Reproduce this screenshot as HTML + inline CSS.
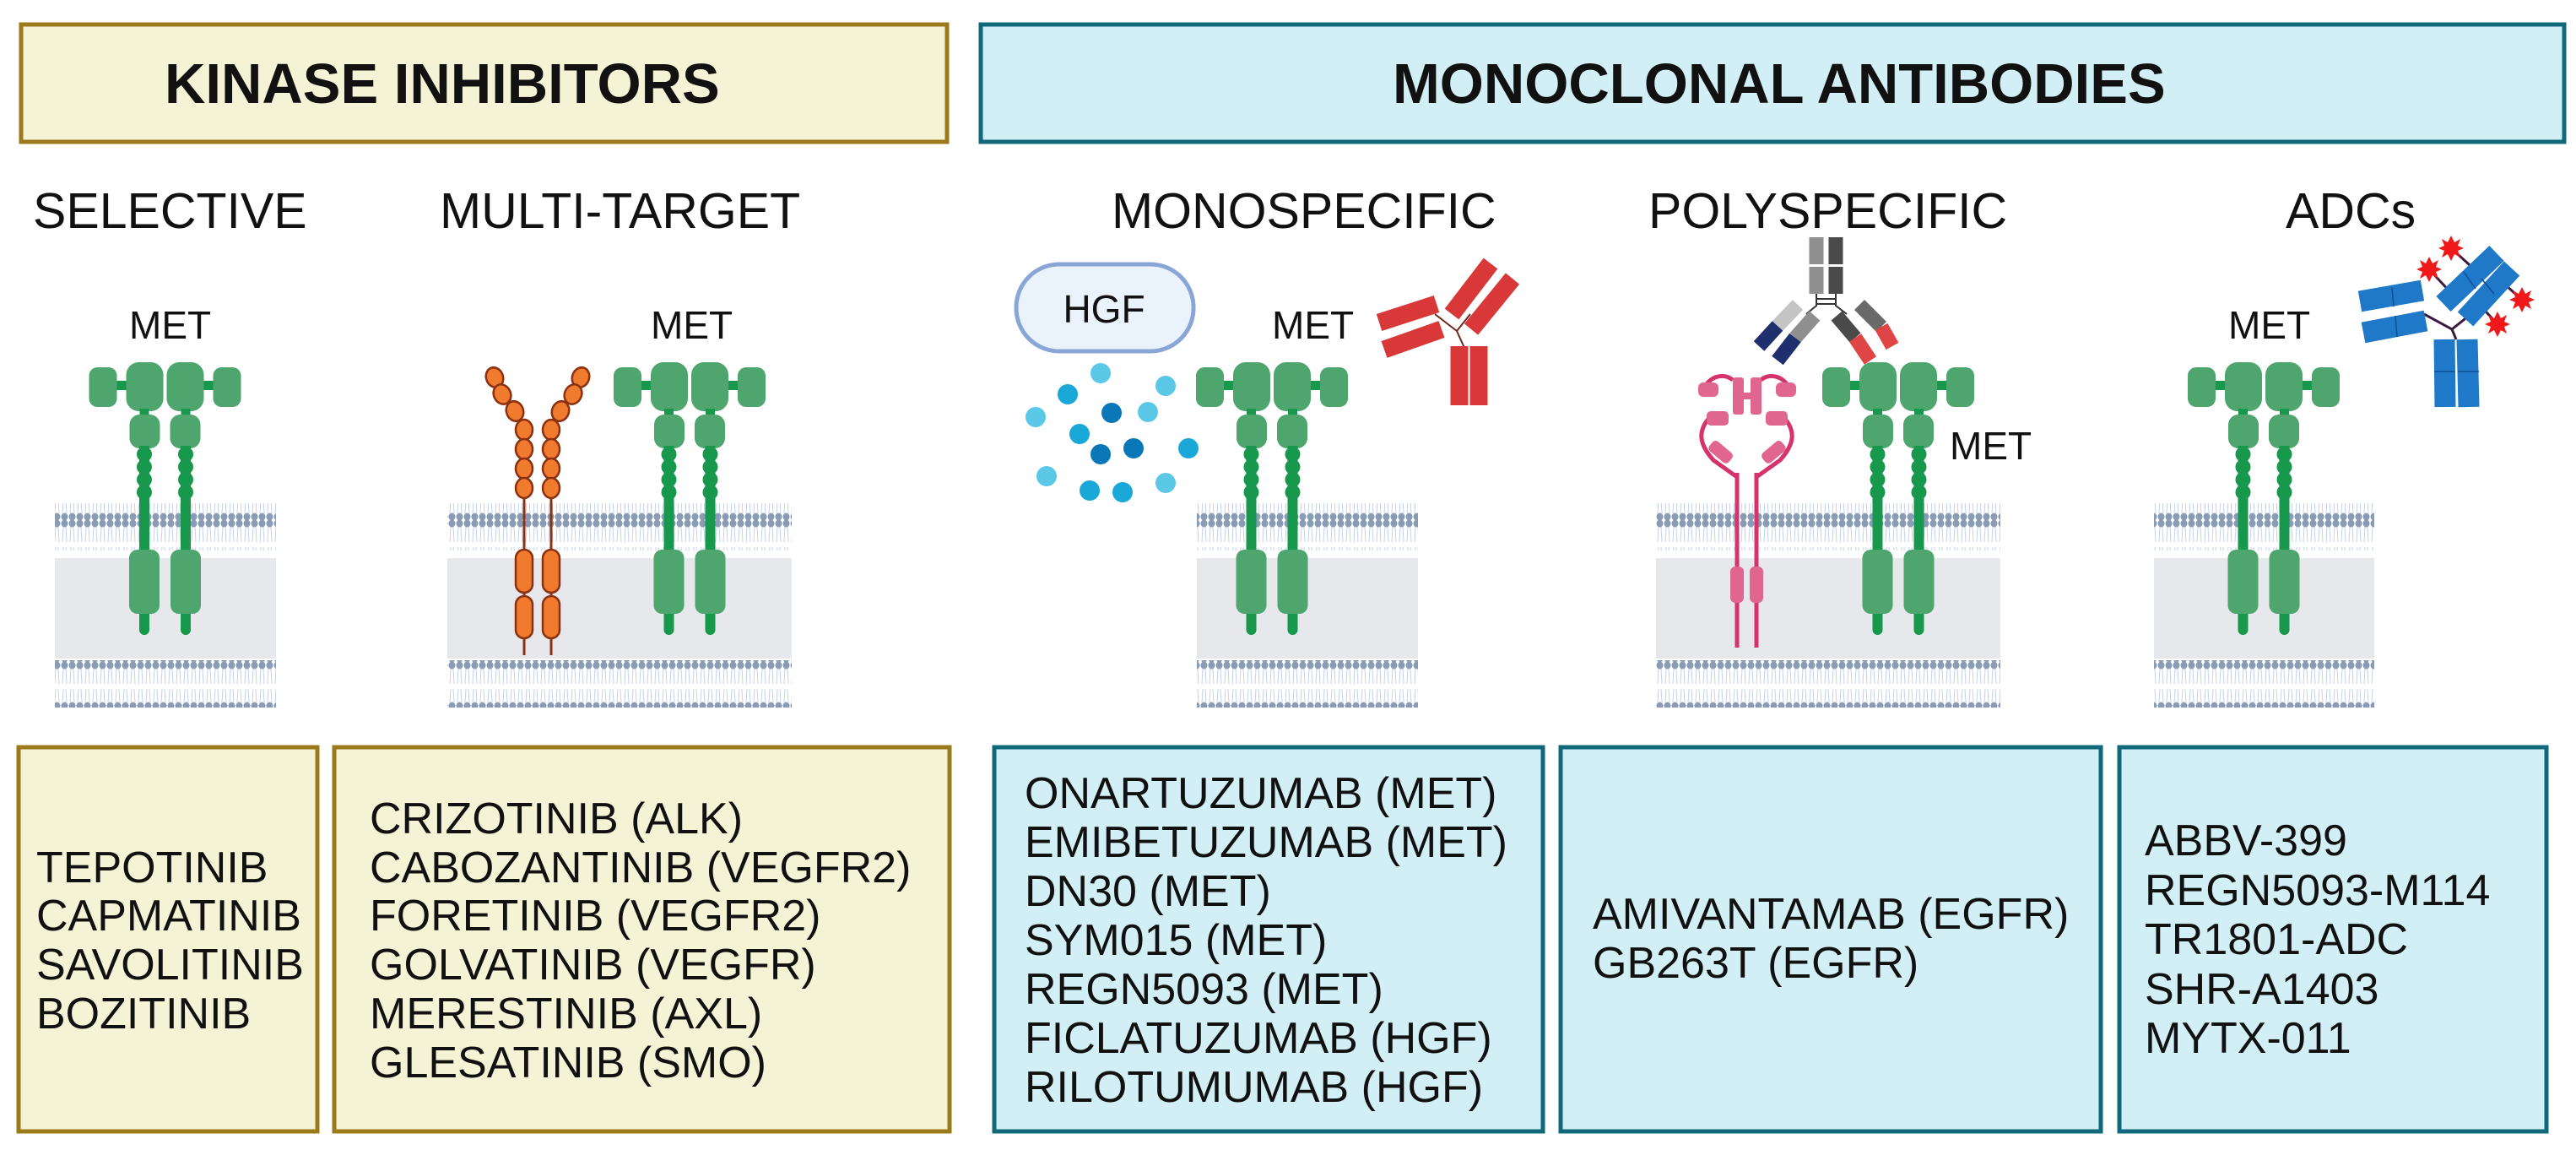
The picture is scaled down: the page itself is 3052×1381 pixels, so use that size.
<!DOCTYPE html>
<html><head><meta charset="utf-8">
<style>
html,body{margin:0;padding:0;background:#fff;}
svg{display:block;}
text{font-family:"Liberation Sans",Arial,sans-serif;fill:#111;}
</style></head>
<body>
<svg width="3052" height="1381" viewBox="0 0 3052 1381" xmlns="http://www.w3.org/2000/svg">
<defs>
  <pattern id="lip" x="0" y="0" width="9" height="56" patternUnits="userSpaceOnUse">
    <path d="M3,8 L2,26 M6,8 L7,26 M3,32 L2,48 M6,32 L7,48" stroke="#c3d3ea" stroke-width="1" fill="none"/>
    <ellipse cx="4.5" cy="4" rx="4" ry="4.5" fill="#8a9bb5"/>
    <ellipse cx="4.5" cy="52" rx="4" ry="4.5" fill="#8a9bb5"/>
  </pattern>
  <g id="met">
    <rect x="-60" y="451" width="16" height="11" fill="#17984c"/>
    <rect x="44" y="451" width="16" height="11" fill="#17984c"/>
    <rect x="-90" y="435" width="33" height="47" rx="10" fill="#4ea66e"/>
    <rect x="57" y="435" width="33" height="47" rx="10" fill="#4ea66e"/>
    <rect x="-46" y="429" width="44" height="58" rx="15" fill="#4ea66e"/>
    <rect x="2" y="429" width="44" height="58" rx="15" fill="#4ea66e"/>
    <rect x="-30" y="484" width="11" height="10" fill="#17984c"/>
    <rect x="19" y="484" width="11" height="10" fill="#17984c"/>
    <rect x="-42" y="491" width="36" height="40" rx="12" fill="#4ea66e"/>
    <rect x="6" y="491" width="36" height="40" rx="12" fill="#4ea66e"/>
    <g fill="#17984c">
      <rect x="-30.5" y="528" width="12" height="126"/>
      <rect x="18.5" y="528" width="12" height="126"/>
      <circle cx="-24.5" cy="538" r="9"/><circle cx="-24.5" cy="553" r="9"/><circle cx="-24.5" cy="568" r="9"/><circle cx="-24.5" cy="583" r="9"/>
      <circle cx="24.5" cy="538" r="9"/><circle cx="24.5" cy="553" r="9"/><circle cx="24.5" cy="568" r="9"/><circle cx="24.5" cy="583" r="9"/>
      <rect x="-30.5" y="715" width="12" height="37" rx="6"/>
      <rect x="18.5" y="715" width="12" height="37" rx="6"/>
    </g>
    <rect x="-42.5" y="651" width="36" height="76" rx="10" fill="#4ea66e"/>
    <rect x="6.5" y="651" width="36" height="76" rx="10" fill="#4ea66e"/>
  </g>
  <polygon id="star" points="0,-15 4,-7 11,-11 8,-3 15,0 8,3 11,11 4,7 0,15 -4,7 -11,11 -8,3 -15,0 -8,-3 -11,-11 -4,-7" fill="#f01818"/>
</defs>

<rect x="25" y="29" width="1097" height="139" fill="#f5f3d6" stroke="#9c7a1c" stroke-width="5"/>
<text x="195" y="122" font-size="67" font-weight="bold">KINASE INHIBITORS</text>
<rect x="1162" y="29" width="1876" height="139" fill="#d2eff6" stroke="#10687a" stroke-width="5"/>
<text x="1650" y="122" font-size="67" font-weight="bold">MONOCLONAL ANTIBODIES</text>

<g font-size="59">
<text x="39" y="270">SELECTIVE</text>
<text x="521" y="270">MULTI-TARGET</text>
<text x="1317" y="270">MONOSPECIFIC</text>
<text x="1953" y="270">POLYSPECIFIC</text>
<text x="2708" y="270">ADCs</text>
</g>

<g>
  <rect x="65" y="661" width="262" height="119" fill="#e6e8eb"/>
  <rect x="65" y="596" width="262" height="56" fill="url(#lip)"/>
  <rect x="65" y="782" width="262" height="56" fill="url(#lip)"/>
  <rect x="530" y="661" width="408" height="119" fill="#e6e8eb"/>
  <rect x="530" y="596" width="408" height="56" fill="url(#lip)"/>
  <rect x="530" y="782" width="408" height="56" fill="url(#lip)"/>
  <rect x="1418" y="661" width="262" height="119" fill="#e6e8eb"/>
  <rect x="1418" y="596" width="262" height="56" fill="url(#lip)"/>
  <rect x="1418" y="782" width="262" height="56" fill="url(#lip)"/>
  <rect x="1962" y="661" width="408" height="119" fill="#e6e8eb"/>
  <rect x="1962" y="596" width="408" height="56" fill="url(#lip)"/>
  <rect x="1962" y="782" width="408" height="56" fill="url(#lip)"/>
  <rect x="2552" y="661" width="261" height="119" fill="#e6e8eb"/>
  <rect x="2552" y="596" width="261" height="56" fill="url(#lip)"/>
  <rect x="2552" y="782" width="261" height="56" fill="url(#lip)"/>
</g>

<g font-size="46">
<text x="153" y="401">MET</text>
<text x="771" y="401">MET</text>
<text x="1507" y="401">MET</text>
<text x="2310" y="544">MET</text>
<text x="2640" y="401">MET</text>
</g>

<use href="#met" x="195.5" y="0"/>
<use href="#met" x="817" y="0"/>
<use href="#met" x="1507" y="0"/>
<use href="#met" x="2249" y="0"/>
<use href="#met" x="2682" y="0"/>

<g stroke="#8b3010" stroke-width="3">
  <line x1="621" y1="590" x2="621" y2="776"/>
  <line x1="653" y1="590" x2="653" y2="776"/>
</g>
<g fill="#f07a2e" stroke="#8b3010" stroke-width="2.5">
  <ellipse cx="586" cy="447" rx="10" ry="12" transform="rotate(-20 586 447)"/>
  <ellipse cx="595" cy="467" rx="10" ry="12" transform="rotate(-25 595 467)"/>
  <ellipse cx="610" cy="487" rx="10" ry="12" transform="rotate(-20 610 487)"/>
  <ellipse cx="621" cy="509" rx="10" ry="12"/>
  <ellipse cx="621" cy="532" rx="10" ry="12"/>
  <ellipse cx="621" cy="555" rx="10" ry="12"/>
  <ellipse cx="621" cy="578" rx="10" ry="12"/>
  <ellipse cx="688" cy="447" rx="10" ry="12" transform="rotate(20 688 447)"/>
  <ellipse cx="679" cy="467" rx="10" ry="12" transform="rotate(25 679 467)"/>
  <ellipse cx="664" cy="487" rx="10" ry="12" transform="rotate(20 664 487)"/>
  <ellipse cx="653" cy="509" rx="10" ry="12"/>
  <ellipse cx="653" cy="532" rx="10" ry="12"/>
  <ellipse cx="653" cy="555" rx="10" ry="12"/>
  <ellipse cx="653" cy="578" rx="10" ry="12"/>
  <rect x="611" y="651" width="20" height="51" rx="10"/>
  <rect x="643" y="651" width="20" height="51" rx="10"/>
  <rect x="611" y="706" width="20" height="50" rx="10"/>
  <rect x="643" y="706" width="20" height="50" rx="10"/>
</g>

<rect x="1204" y="313" width="210" height="103" rx="51" fill="#eaf3fc" stroke="#8aa6d6" stroke-width="5"/>
<text x="1308" y="382" font-size="46" text-anchor="middle">HGF</text>
<g>
  <circle cx="1304" cy="442" r="12" fill="#5cc8e8"/>
  <circle cx="1381" cy="457" r="12" fill="#5cc8e8"/>
  <circle cx="1265" cy="467" r="12" fill="#1aa8d8"/>
  <circle cx="1227" cy="494" r="12" fill="#5cc8e8"/>
  <circle cx="1317" cy="489" r="12" fill="#0a78b8"/>
  <circle cx="1360" cy="488" r="12" fill="#5cc8e8"/>
  <circle cx="1279" cy="514" r="12" fill="#1aa8d8"/>
  <circle cx="1304" cy="538" r="12" fill="#0a78b8"/>
  <circle cx="1343" cy="531" r="12" fill="#0a78b8"/>
  <circle cx="1408" cy="531" r="12" fill="#1aa8d8"/>
  <circle cx="1240" cy="564" r="12" fill="#5cc8e8"/>
  <circle cx="1291" cy="581" r="12" fill="#1aa8d8"/>
  <circle cx="1330" cy="583" r="12" fill="#1aa8d8"/>
  <circle cx="1381" cy="572" r="12" fill="#5cc8e8"/>
</g>

<g stroke="#6a2a20" stroke-width="2" fill="none">
  <path d="M1700,372 L1726,392 L1742,372 M1726,392 L1735,412"/>
</g>
<g stroke="#d93838" stroke-width="21">
  <line x1="1720" y1="372" x2="1766" y2="312"/>
  <line x1="1743" y1="390" x2="1792" y2="330"/>
  <line x1="1634" y1="382" x2="1702" y2="360"/>
  <line x1="1640" y1="414" x2="1708" y2="390"/>
  <line x1="1729" y1="410" x2="1729" y2="480"/>
  <line x1="1752" y1="410" x2="1752" y2="480"/>
</g>

<g fill="none" stroke="#d6336c" stroke-width="5">
  <line x1="2058" y1="560" x2="2058" y2="767"/>
  <line x1="2081" y1="560" x2="2081" y2="767"/>
  <path d="M2025,495 C2012,510 2012,525 2030,545 L2058,565"/>
  <path d="M2114,495 C2127,510 2127,525 2109,545 L2081,565"/>
  <path d="M2053,450 C2040,440 2025,448 2020,458"/>
  <path d="M2086,450 C2099,440 2114,448 2119,458"/>
</g>
<g fill="#e0668f">
  <rect x="2053" y="447" width="13" height="44" rx="3"/>
  <rect x="2074" y="447" width="13" height="44" rx="3"/>
  <rect x="2064" y="465" width="12" height="8"/>
  <rect x="2012" y="453" width="24" height="17" rx="6"/>
  <rect x="2104" y="453" width="24" height="17" rx="6"/>
  <rect x="2022" y="487" width="26" height="17" rx="5"/>
  <rect x="2092" y="487" width="26" height="17" rx="5"/>
  <rect x="2024" y="528" width="30" height="15" rx="5" transform="rotate(40 2039 535)"/>
  <rect x="2086" y="528" width="30" height="15" rx="5" transform="rotate(-40 2101 535)"/>
  <rect x="2050" y="671" width="16" height="43" rx="6"/>
  <rect x="2073" y="671" width="16" height="43" rx="6"/>
</g>

<g stroke="#333" stroke-width="2" fill="none">
  <path d="M2152,348 L2152,362 L2140,372 M2175,348 L2175,362 L2188,372 M2152,354 L2175,354 M2152,360 L2175,360"/>
</g>
<g stroke-width="17">
  <line x1="2152" y1="281" x2="2152" y2="313" stroke="#8f8f8f"/>
  <line x1="2152" y1="316" x2="2152" y2="348" stroke="#8f8f8f"/>
  <line x1="2175" y1="281" x2="2175" y2="313" stroke="#4a4a4a"/>
  <line x1="2175" y1="316" x2="2175" y2="348" stroke="#4a4a4a"/>
  <line x1="2130" y1="361" x2="2106" y2="386" stroke="#c4c4c4"/>
  <line x1="2106" y1="386" x2="2084" y2="410" stroke="#1f2f6e"/>
  <line x1="2150" y1="374" x2="2127" y2="400" stroke="#8f8f8f"/>
  <line x1="2127" y1="400" x2="2106" y2="427" stroke="#1f2f6e"/>
  <line x1="2203" y1="361" x2="2229" y2="387" stroke="#6a6a6a"/>
  <line x1="2229" y1="387" x2="2242" y2="410" stroke="#e04545"/>
  <line x1="2176" y1="374" x2="2198" y2="400" stroke="#4a4a4a"/>
  <line x1="2198" y1="400" x2="2216" y2="427" stroke="#e04545"/>
</g>

<g stroke="#3a1a40" stroke-width="3" fill="none">
  <path d="M2872,372 L2905,390 L2930,370 M2905,390 L2910,402"/>
  <line x1="2904" y1="294" x2="2935" y2="322"/>
  <line x1="2878" y1="319" x2="2905" y2="348"/>
  <line x1="2988" y1="355" x2="2960" y2="330"/>
  <line x1="2959" y1="384" x2="2935" y2="358"/>
</g>
<g stroke="#1f78c8" stroke-width="25">
  <line x1="2796" y1="357" x2="2870" y2="344"/>
  <line x1="2800" y1="394" x2="2874" y2="380"/>
  <line x1="2895" y1="360" x2="2958" y2="300"/>
  <line x1="2921" y1="378" x2="2976" y2="318"/>
  <line x1="2896" y1="402" x2="2897" y2="482"/>
  <line x1="2923" y1="402" x2="2925" y2="482"/>
</g>
<g stroke="#0d4f94" stroke-width="1.5">
  <line x1="2834" y1="341" x2="2836" y2="363"/>
  <line x1="2838" y1="374" x2="2840" y2="399"/>
  <line x1="2919" y1="322" x2="2933" y2="342"/>
  <line x1="2940" y1="330" x2="2955" y2="348"/>
  <line x1="2884" y1="440" x2="2908" y2="440"/>
  <line x1="2912" y1="440" x2="2937" y2="440"/>
</g>
<use href="#star" x="2904" y="294"/>
<use href="#star" x="2878" y="319"/>
<use href="#star" x="2988" y="355"/>
<use href="#star" x="2959" y="384"/>

<rect x="22" y="885" width="354" height="455" fill="#f5f3d6" stroke="#9c7a1c" stroke-width="5"/>
<rect x="396" y="885" width="729" height="455" fill="#f5f3d6" stroke="#9c7a1c" stroke-width="5"/>
<rect x="1178" y="885" width="650" height="455" fill="#d2eff6" stroke="#10687a" stroke-width="5"/>
<rect x="1849" y="885" width="640" height="455" fill="#d2eff6" stroke="#10687a" stroke-width="5"/>
<rect x="2511" y="885" width="506" height="455" fill="#d2eff6" stroke="#10687a" stroke-width="5"/>

<g font-size="52">
<text x="43" y="1045">TEPOTINIB</text>
<text x="43" y="1102">CAPMATINIB</text>
<text x="43" y="1160">SAVOLITINIB</text>
<text x="43" y="1218">BOZITINIB</text>

<text x="438" y="987">CRIZOTINIB (ALK)</text>
<text x="438" y="1045">CABOZANTINIB (VEGFR2)</text>
<text x="438" y="1102">FORETINIB (VEGFR2)</text>
<text x="438" y="1160">GOLVATINIB (VEGFR)</text>
<text x="438" y="1218">MERESTINIB (AXL)</text>
<text x="438" y="1276">GLESATINIB (SMO)</text>

<text x="1214" y="957">ONARTUZUMAB (MET)</text>
<text x="1214" y="1015">EMIBETUZUMAB (MET)</text>
<text x="1214" y="1073">DN30 (MET)</text>
<text x="1214" y="1131">SYM015 (MET)</text>
<text x="1214" y="1189">REGN5093 (MET)</text>
<text x="1214" y="1247">FICLATUZUMAB (HGF)</text>
<text x="1214" y="1305">RILOTUMUMAB (HGF)</text>

<text x="1887" y="1100">AMIVANTAMAB (EGFR)</text>
<text x="1887" y="1158">GB263T (EGFR)</text>

<text x="2541" y="1013">ABBV-399</text>
<text x="2541" y="1072">REGN5093-M114</text>
<text x="2541" y="1130">TR1801-ADC</text>
<text x="2541" y="1189">SHR-A1403</text>
<text x="2541" y="1247">MYTX-011</text>
</g>
</svg>
</body></html>
